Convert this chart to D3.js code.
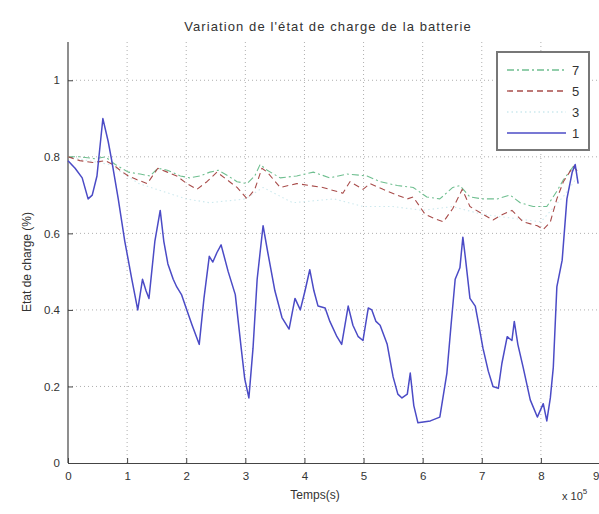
<!DOCTYPE html>
<html>
<head>
<meta charset="utf-8">
<script src="https://cdn.jsdelivr.net/npm/d3@7"></script>
<style>
  body { margin: 0; background: #fff; }
  svg text { font-family: "Liberation Sans", Arial, sans-serif; fill: #333; }
</style>
</head>
<body>
<svg id="chart" width="599" height="514"></svg>
<script>
// Time axis in units of 10^5 s, state of charge as a fraction
const xTicks = [0, 1, 2, 3, 4, 5, 6, 7, 8, 9];
const yTicks = [0, 0.2, 0.4, 0.6, 0.8, 1];

// Series "1" (solid blue)
const t1 = [0.00,0.12,0.24,0.34,0.41,0.49,0.59,0.68,0.74,0.85,0.96,1.08,1.18,1.26,1.32,1.37,1.47,1.56,1.62,1.69,1.78,1.84,1.92,2.01,2.10,2.22,2.30,2.39,2.45,2.52,2.59,2.71,2.83,2.93,2.99,3.06,3.13,3.20,3.30,3.38,3.50,3.62,3.74,3.84,3.93,4.01,4.09,4.16,4.23,4.35,4.43,4.55,4.63,4.74,4.82,4.91,4.99,5.08,5.14,5.21,5.28,5.40,5.50,5.58,5.65,5.74,5.79,5.85,5.92,6.13,6.29,6.41,6.48,6.55,6.63,6.68,6.72,6.80,6.89,6.95,7.02,7.11,7.19,7.28,7.34,7.43,7.51,7.55,7.61,7.70,7.82,7.94,8.04,8.10,8.16,8.21,8.27,8.36,8.44,8.53,8.58,8.63];
const v1 = [0.79,0.77,0.745,0.69,0.70,0.75,0.90,0.84,0.79,0.69,0.58,0.48,0.40,0.48,0.45,0.43,0.58,0.66,0.58,0.52,0.48,0.46,0.44,0.40,0.36,0.31,0.43,0.54,0.525,0.55,0.57,0.50,0.44,0.30,0.22,0.17,0.30,0.48,0.62,0.55,0.45,0.38,0.35,0.43,0.40,0.45,0.505,0.45,0.41,0.405,0.37,0.33,0.31,0.41,0.36,0.33,0.32,0.405,0.40,0.37,0.36,0.31,0.225,0.18,0.17,0.18,0.235,0.15,0.105,0.11,0.12,0.235,0.36,0.48,0.51,0.59,0.54,0.43,0.41,0.36,0.30,0.24,0.20,0.195,0.26,0.33,0.32,0.37,0.31,0.25,0.165,0.12,0.155,0.11,0.17,0.25,0.46,0.53,0.69,0.76,0.78,0.73];

// Series "3" (dotted, pale)
const t3 = [0.00,0.70,1.20,2.00,2.40,3.00,3.30,3.80,4.50,5.00,5.50,6.00,6.50,7.00,7.50,8.00,8.40,8.63];
const v3 = [0.80,0.78,0.73,0.69,0.68,0.69,0.72,0.68,0.69,0.67,0.67,0.66,0.67,0.65,0.64,0.63,0.70,0.75];

// Series "5" (dashed red)
const t5 = [0.00,0.20,0.42,0.63,0.76,0.88,1.02,1.17,1.34,1.52,1.68,1.84,2.01,2.18,2.35,2.52,2.69,2.86,3.03,3.16,3.28,3.37,3.59,3.87,4.09,4.31,4.65,4.77,4.99,5.11,5.33,5.57,5.74,5.84,6.04,6.18,6.35,6.51,6.67,6.80,7.02,7.19,7.36,7.51,7.70,7.94,8.04,8.16,8.27,8.38,8.55,8.63];
const v5 = [0.80,0.79,0.785,0.79,0.78,0.765,0.75,0.74,0.73,0.77,0.76,0.75,0.73,0.715,0.735,0.76,0.74,0.72,0.69,0.715,0.77,0.76,0.72,0.73,0.725,0.72,0.705,0.735,0.715,0.73,0.715,0.70,0.69,0.695,0.65,0.64,0.63,0.665,0.715,0.67,0.65,0.635,0.65,0.66,0.63,0.62,0.61,0.63,0.69,0.735,0.775,0.76];

// Series "7" (dash-dot green)
const t7 = [0.00,0.20,0.46,0.63,0.80,1.02,1.22,1.39,1.52,1.68,1.90,2.06,2.23,2.40,2.54,2.71,2.86,3.03,3.16,3.25,3.37,3.59,3.87,4.15,4.43,4.72,5.06,5.28,5.57,5.84,6.07,6.29,6.51,6.63,6.80,7.02,7.26,7.48,7.65,7.87,8.10,8.27,8.38,8.55,8.63];
const v7 = [0.80,0.80,0.795,0.80,0.78,0.76,0.755,0.75,0.77,0.765,0.75,0.745,0.75,0.76,0.765,0.75,0.735,0.73,0.75,0.78,0.765,0.745,0.75,0.76,0.745,0.755,0.75,0.735,0.725,0.72,0.695,0.69,0.72,0.725,0.695,0.69,0.69,0.70,0.68,0.67,0.67,0.71,0.74,0.775,0.76];

const seriesNames = ["7", "5", "3", "1"];
const seriesColors = ["#6fbf90", "#a84c4a", "#cde9ee", "#4b4bc6"];
const seriesDash = ["7,3,2,3", "6,4", "1.5,3", null];
const seriesWidth = [1.1, 1.1, 1.1, 1.5];
const seriesData = [
  d3.zip(t7, v7), d3.zip(t5, v5), d3.zip(t3, v3), d3.zip(t1, v1)
];

const svg = d3.select("#chart");
const plotLeft = 68, plotRight = 600, plotTop = 42, plotBottom = 463;

const x = d3.scaleLinear().domain([0, 9]).range([plotLeft, plotRight]);
const y = d3.scaleLinear().domain([0, 1.1]).range([plotBottom, plotTop]);

// Dotted grid
const grid = svg.append("g");
grid.selectAll("line.gx").data(xTicks.slice(1)).join("line")
  .attr("x1", d => x(d)).attr("x2", d => x(d))
  .attr("y1", plotTop).attr("y2", plotBottom)
  .attr("stroke", "#9a9a9a").attr("stroke-width", 0.8)
  .attr("stroke-dasharray", "1,3");
grid.selectAll("line.gy").data(yTicks.slice(1)).join("line")
  .attr("x1", plotLeft).attr("x2", plotRight)
  .attr("y1", d => y(d)).attr("y2", d => y(d))
  .attr("stroke", "#9a9a9a").attr("stroke-width", 0.8)
  .attr("stroke-dasharray", "1,3");

// Axes with inward ticks
const xAxis = d3.axisBottom(x).tickValues(xTicks).tickSizeInner(-5).tickSizeOuter(0)
  .tickPadding(9).tickFormat(d3.format("d"));
const yAxis = d3.axisLeft(y).tickValues(yTicks).tickSizeInner(-5).tickSizeOuter(0)
  .tickPadding(8).tickFormat(d => d === 0 || d === 1 ? String(d) : d3.format(".1f")(d));

const gx = svg.append("g").attr("transform", `translate(0,${plotBottom})`).call(xAxis);
const gy = svg.append("g").attr("transform", `translate(${plotLeft},0)`).call(yAxis);
[gx, gy].forEach(g => {
  g.select(".domain").attr("stroke", "#444").attr("stroke-width", 1.2);
  g.selectAll(".tick line").attr("stroke", "#444");
  g.selectAll(".tick text").attr("font-size", 11.5).attr("fill", "#444")
    .attr("font-family", "Liberation Sans, Arial, sans-serif");
});
gy.select(".domain").attr("d", `M0,${plotTop}V${plotBottom}`);
// keep the last tick label inside the page edge
gx.selectAll(".tick text").filter(d => d === 9)
  .attr("text-anchor", "end").attr("x", -1);

// Lines
const line = d3.line().x(d => x(d[0])).y(d => y(d[1]));
const order = [2, 0, 1, 3];
order.forEach(i => {
  svg.append("path")
    .datum(seriesData[i])
    .attr("d", line)
    .attr("fill", "none")
    .attr("stroke", seriesColors[i])
    .attr("stroke-width", seriesWidth[i])
    .attr("stroke-dasharray", seriesDash[i])
    .attr("stroke-linejoin", "round");
});

// Titles
svg.append("text").attr("x", 328).attr("y", 31).attr("text-anchor", "middle")
  .attr("font-size", 13).attr("letter-spacing", 1.1).attr("fill", "#444")
  .text("Variation de l'état de charge de la batterie");
svg.append("text").attr("x", 315).attr("y", 499).attr("text-anchor", "middle")
  .attr("font-size", 12).attr("fill", "#444").text("Temps(s)");
svg.append("text").attr("transform", "translate(31,262) rotate(-90)")
  .attr("text-anchor", "middle").attr("font-size", 12).attr("fill", "#444")
  .text("Etat de charge (%)");
const expo = svg.append("text").attr("x", 562).attr("y", 500)
  .attr("font-size", 11).attr("fill", "#444");
expo.append("tspan").text("x 10");
expo.append("tspan").attr("dy", -6).attr("font-size", 8).text("5");

// Legend
const lg = svg.append("g");
lg.append("rect").attr("x", 497).attr("y", 52).attr("width", 92).attr("height", 98)
  .attr("fill", "#fff").attr("stroke", "#777").attr("stroke-width", 2);
const ly = d3.scalePoint().domain(seriesNames).range([70, 133]);
seriesNames.forEach((name, i) => {
  lg.append("line").attr("x1", 507).attr("x2", 566)
    .attr("y1", ly(name)).attr("y2", ly(name))
    .attr("stroke", seriesColors[i]).attr("stroke-width", seriesWidth[i] + 0.2)
    .attr("stroke-dasharray", seriesDash[i]);
  lg.append("text").attr("x", 572).attr("y", ly(name) + 5)
    .attr("font-size", 13).attr("fill", "#444").text(name);
});
</script>
</body>
</html>
